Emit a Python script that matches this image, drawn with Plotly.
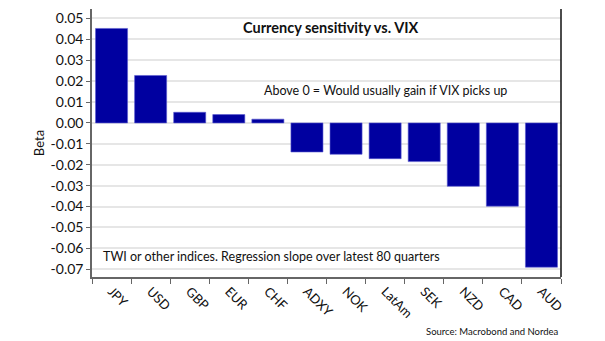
import plotly.graph_objects as go

categories = ["JPY", "USD", "GBP", "EUR", "CHF", "ADXY", "NOK", "LatAm", "SEK", "NZD", "CAD", "AUD"]
beta = [0.0452, 0.0227, 0.0051, 0.0040, 0.0018, -0.0139, -0.0150, -0.0171, -0.0185, -0.0303, -0.0398, -0.0690]
y_ticks = [0.05, 0.04, 0.03, 0.02, 0.01, 0.0, -0.01, -0.02, -0.03, -0.04, -0.05, -0.06, -0.07]

FONT = "Lato"

fig = go.Figure(go.Bar(
    x=categories, y=beta,
    marker=dict(color="#0000A0", line=dict(color="#5a5ad0", width=0.6)),
))

fig.update_layout(
    width=605, height=341,
    margin=dict(l=92, r=44, t=9, b=64),
    paper_bgcolor="white", plot_bgcolor="white",
    bargap=0.18,
    showlegend=False,
    font=dict(family=FONT, color="#111111"),
)
fig.update_xaxes(
    tickangle=45, tickfont=dict(size=13),
    showline=True, linecolor="#666666", linewidth=1.5,
    ticks="outside", tickson="boundaries", ticklen=5, tickcolor="#666666",
    mirror=False, showgrid=False,
)
fig.update_yaxes(
    range=[-0.0737, 0.0545],
    tickvals=y_ticks, ticktext=[f"{v:.2f}" if v >= 0 else f"-{abs(v):.2f}" for v in y_ticks],
    tickfont=dict(size=14),
    showline=True, linecolor="#666666", linewidth=1.5,
    ticks="outside", ticklen=4, tickcolor="#666666",
    showgrid=True, gridcolor="#e6e6e6", gridwidth=1.5,
    zeroline=False,
    title=dict(text="Beta", font=dict(size=13), standoff=3),
)
# right border line
fig.add_shape(type="line", xref="paper", yref="paper", x0=1, x1=1, y0=0, y1=1,
              line=dict(color="#111111", width=1.5))

fig.add_annotation(text="<b>Currency sensitivity vs. VIX</b>", xref="paper", yref="paper",
                   x=0.51, xanchor="center", y=0.93, yanchor="middle", showarrow=False, font=dict(size=14.5))
fig.add_annotation(text="Above 0 = Would usually gain if VIX picks up", xref="paper", yref="paper",
                   x=0.363, xanchor="left", y=0.695, yanchor="middle", showarrow=False, font=dict(size=12.5))
fig.add_annotation(text="TWI or other indices. Regression slope over latest 80 quarters", xref="paper", yref="paper",
                   x=0.02, xanchor="left", y=0.075, yanchor="middle", showarrow=False, font=dict(size=12.5))
fig.add_annotation(text="Source: Macrobond and Nordea", xref="paper", yref="paper",
                   x=1.0, xanchor="right", y=-0.205, yanchor="middle", showarrow=False, font=dict(size=9.5))

fig.write_html("out.html")
